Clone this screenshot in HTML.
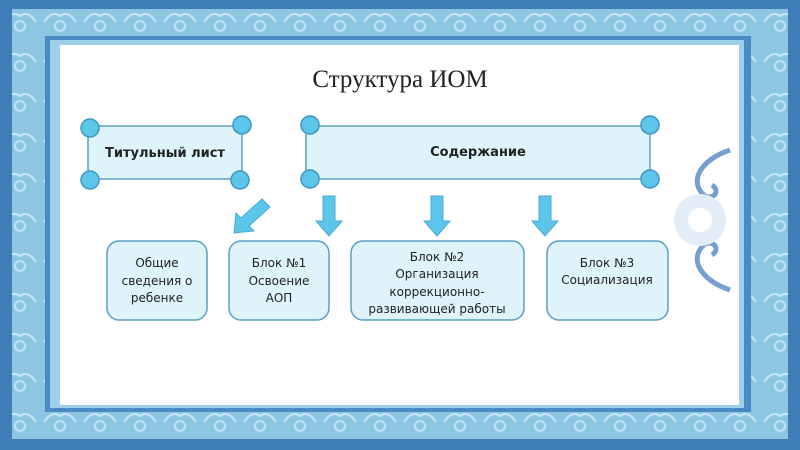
<!DOCTYPE html>
<html><head><meta charset="utf-8"><style>
html,body{margin:0;padding:0;width:800px;height:450px;overflow:hidden;background:#fff}
svg{display:block}
text{font-family:"DejaVu Sans","Liberation Sans",sans-serif;fill:#222}
</style></head><body>
<svg width="800" height="450" viewBox="0 0 800 450" xmlns="http://www.w3.org/2000/svg">
<defs>
<pattern id="orn" width="40" height="40" patternUnits="userSpaceOnUse">
<rect width="40" height="40" fill="#8cc6e3"/>
<path d="M4 22 Q12 10 20 16 Q28 10 36 22" fill="none" stroke="#c9e7f5" stroke-width="2"/>
<circle cx="20" cy="26" r="5" fill="none" stroke="#c2e3f3" stroke-width="2"/>
</pattern>
</defs>
<rect x="0" y="0" width="800" height="450" fill="#3f7db8"/>
<rect x="12" y="9" width="776" height="430" fill="url(#orn)"/>
<rect x="45" y="36" width="706" height="376" fill="#4a8ac4"/>
<rect x="50" y="40" width="694" height="368" fill="#9dd0ea"/>
<rect x="60" y="45" width="679" height="360" fill="#ffffff"/>
<!-- right ornament -->
<g fill="none" stroke="#5f8fc8" stroke-width="5" opacity="0.85">
<path d="M730 150 C700 160 688 182 705 196 C715 200 720 190 712 185"/>
<path d="M730 290 C700 280 688 258 705 244 C715 240 720 250 712 255"/>
</g>
<circle cx="700" cy="220" r="26" fill="#e3edf8"/>
<circle cx="700" cy="220" r="12" fill="#ffffff"/>
<text x="400" y="87" text-anchor="middle" style="font-family:'Liberation Serif',serif;font-size:25px" fill="#111">Структура ИОМ</text>
<!-- top boxes -->
<g stroke="#5b9fc1" stroke-width="1.5" fill="#dff3fb">
<rect x="88" y="126" width="154" height="53"/>
<rect x="306" y="126" width="344" height="53"/>
</g>
<g fill="#5bc6ea" stroke="#3d97bf" stroke-width="1.5">
<circle cx="90" cy="128" r="9"/><circle cx="242" cy="125" r="9"/>
<circle cx="90" cy="180" r="9"/><circle cx="240" cy="180" r="9"/>
<circle cx="310" cy="125" r="9"/><circle cx="650" cy="125" r="9"/>
<circle cx="310" cy="179" r="9"/><circle cx="650" cy="179" r="9"/>
</g>
<text x="165" y="157" text-anchor="middle" font-size="13" font-weight="bold" fill="#333">Титульный лист</text>
<text x="478" y="156" text-anchor="middle" font-size="13" font-weight="bold" fill="#333">Содержание</text>
<!-- arrows -->
<g fill="#5bc6ea" stroke="#4aa9d2" stroke-width="1">
<path d="M323 196 H335 V221 H342 L329 236 L316 221 H323 Z"/>
<path d="M431 196 H443 V221 H450 L437 236 L424 221 H431 Z"/>
<path d="M539 196 H551 V221 H558 L545 236 L532 221 H539 Z"/>
<path d="M262 199 L270 207 L249 226 L254 231 L234 233 L236 213 L241 218 Z"/>
</g>
<!-- bottom boxes -->
<g stroke="#5b9fc1" stroke-width="1.5" fill="#dff3fb">
<rect x="107" y="241" width="100" height="79" rx="12"/>
<rect x="229" y="241" width="100" height="79" rx="12"/>
<rect x="351" y="241" width="173" height="79" rx="12"/>
<rect x="547" y="241" width="121" height="79" rx="12"/>
</g>
<g font-size="12" text-anchor="middle">
<text x="157" y="267">Общие</text><text x="157" y="285">сведения о</text><text x="157" y="302">ребенке</text>
<text x="279" y="267">Блок №1</text><text x="279" y="285">Освоение</text><text x="279" y="302">АОП</text>
<text x="437" y="261">Блок №2</text><text x="437" y="278">Организация</text><text x="437" y="296">коррекционно-</text><text x="437" y="313">развивающей работы</text>
<text x="607" y="267">Блок №3</text><text x="607" y="284">Социализация</text>
</g>
</svg>
</body></html>
